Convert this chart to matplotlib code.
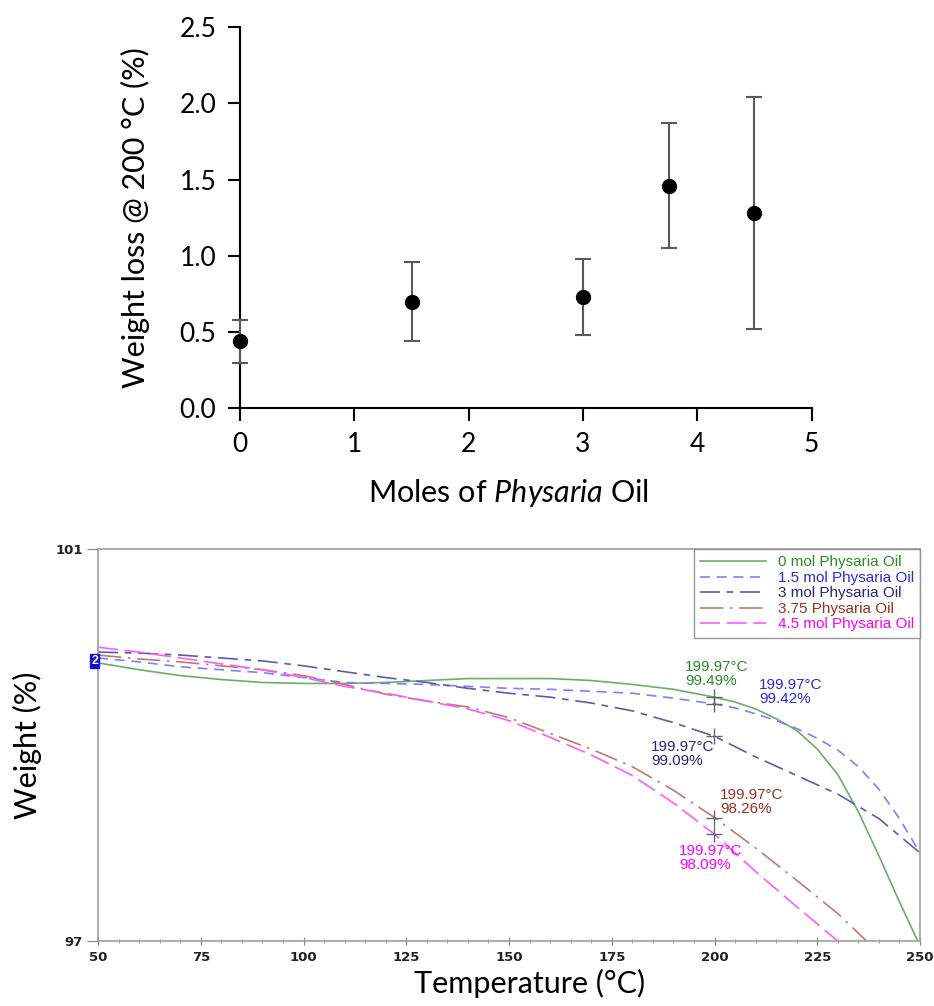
import matplotlib
matplotlib.use("Agg")
import matplotlib.pyplot as plt
from matplotlib.ticker import MultipleLocator, FixedLocator

plt.rcParams['mathtext.fontset'] = 'custom'
plt.rcParams['mathtext.rm'] = 'Lato'
plt.rcParams['mathtext.it'] = 'Lato:italic'

# --- top panel data: weight loss at 200 C vs moles of Physaria oil
moles = [0, 1.5, 3, 3.75, 4.5]
weight_loss = [0.44, 0.70, 0.73, 1.46, 1.28]
loss_err = [0.14, 0.26, 0.25, 0.41, 0.76]

# --- bottom panel data: TGA curves (temperature in C, weight in %)
temp_a = [50, 60, 70, 80, 90, 100, 110, 120, 130, 140, 150, 160, 170, 180, 190,
          200, 205, 210, 215, 220, 225, 230, 235, 240, 245, 250]
w_0 = [99.84, 99.77, 99.71, 99.67, 99.64, 99.63, 99.63, 99.64, 99.66, 99.68, 99.68,
       99.68, 99.66, 99.62, 99.57, 99.49, 99.44, 99.37, 99.27, 99.15, 98.96, 98.70,
       98.32, 97.87, 97.40, 96.95]
w_15 = [99.89, 99.85, 99.80, 99.77, 99.74, 99.69, 99.64, 99.63, 99.62, 99.60, 99.58,
        99.57, 99.55, 99.53, 99.48, 99.42, 99.38, 99.32, 99.25, 99.17, 99.07, 98.95,
        98.78, 98.55, 98.25, 97.90]
temp_b = [50, 60, 70, 80, 90, 100, 110, 120, 130, 140, 150, 160, 170, 180, 190,
          200, 210, 220, 230, 240, 250]
w_3 = [99.95, 99.94, 99.92, 99.89, 99.86, 99.81, 99.75, 99.69, 99.64, 99.58, 99.53,
       99.49, 99.43, 99.35, 99.23, 99.09, 98.88, 98.69, 98.50, 98.25, 97.90]
temp_c = [50, 60, 70, 80, 90, 100, 110, 120, 130, 140, 150, 160, 170, 180, 190,
          200, 210, 220, 230, 237]
w_375 = [99.92, 99.88, 99.85, 99.81, 99.77, 99.71, 99.62, 99.52, 99.45, 99.39, 99.28,
         99.12, 98.96, 98.78, 98.54, 98.26, 97.95, 97.62, 97.28, 97.00]
temp_d = [50, 60, 70, 80, 90, 100, 110, 120, 130, 140, 150, 160, 170, 180, 190,
          200, 210, 220, 230]
w_45 = [100.00, 99.95, 99.89, 99.83, 99.77, 99.69, 99.60, 99.53, 99.45, 99.37, 99.25,
        99.08, 98.90, 98.69, 98.41, 98.09, 97.71, 97.35, 97.00]

labels = ['0 mol Physaria Oil', '1.5 mol Physaria Oil', '3 mol Physaria Oil',
          '3.75 Physaria Oil', '4.5 mol Physaria Oil']
line_colors = ['#6aae6a', '#7f7fff', '#5c5ca8', '#c07a6c', '#ff5cff']
text_colors = ['#2a8a2a', '#2a2ae0', '#26267a', '#9a3024', '#ff00ff']
marker_vals = [99.49, 99.42, 99.09, 98.26, 98.09]

fig = plt.figure(figsize=(9.34, 10.06), dpi=100)

# ---------------- top panel ----------------
ax1 = fig.add_axes([0.257, 0.594, 0.612, 0.379])
ax1.errorbar(moles, weight_loss, yerr=loss_err, fmt='o', color='black', ms=10,
             ecolor='#5a5a5a', elinewidth=1.5, capsize=6, capthick=1.5, clip_on=False, zorder=3)
ax1.set_xlim(0, 5)
ax1.set_ylim(0, 2.5)
ax1.xaxis.set_major_locator(MultipleLocator(1))
ax1.yaxis.set_major_locator(MultipleLocator(0.5))
ax1.yaxis.set_major_formatter(matplotlib.ticker.FormatStrFormatter('%.1f'))
for s in ['top', 'right']:
    ax1.spines[s].set_visible(False)
for s in ['left', 'bottom']:
    ax1.spines[s].set_linewidth(1.5)
ax1.tick_params(width=1.5, length=9, labelsize=19, pad=8)
for t in ax1.get_xticklabels() + ax1.get_yticklabels():
    t.set_fontfamily('Lato')
ax1.set_xlabel(r'Moles of $\mathit{Physaria}$ Oil', fontsize=22, family='Lato')
ax1.set_ylabel('Weight loss @ 200 °C (%)', fontsize=22, family='Lato')
ax1.xaxis.set_label_coords(0.47, -0.18)
ax1.yaxis.set_label_coords(-0.157, 0.5)

# ---------------- bottom panel ----------------
ax2 = fig.add_axes([0.105, 0.0646, 0.880, 0.3894])
series = [(temp_a, w_0), (temp_a, w_15), (temp_b, w_3), (temp_c, w_375), (temp_d, w_45)]
styles = ['-', (0, (6, 4)), (0, (12, 4, 4, 4)), (0, (14, 4, 1.5, 4)), (0, (12, 4))]
for (tx, wy), lab, lc, ls in zip(series, labels, line_colors, styles):
    ax2.plot(tx, wy, color=lc, lw=1.2, ls=ls, label=lab)

# markers at 199.97 C
for v in marker_vals:
    ax2.plot(199.97, v, marker='+', color='#666666', ms=12, mew=1, zorder=4)

ann_pos = [(192.8, 99.87), (210.8, 99.69), (184.5, 99.05), (201.3, 98.56), (191.4, 97.99)]
for (x, y), v, c in zip(ann_pos, marker_vals, text_colors):
    ax2.text(x, y, f'199.97°C\n{v:.2f}%', color=c, fontsize=11, family='Liberation Sans',
             va='top', ha='left', linespacing=1.0)

ax2.text(50, 99.86, '2', color='white', fontsize=9, fontweight='bold', ha='right', va='center',
         family='Liberation Sans',
         bbox=dict(boxstyle='square,pad=0.1', fc='#1111cc', ec='#1111cc'))

ax2.set_xlim(50, 250)
ax2.set_ylim(97, 101)
ax2.xaxis.set_major_locator(MultipleLocator(25))
ax2.xaxis.set_minor_locator(MultipleLocator(5))
ax2.yaxis.set_major_locator(FixedLocator([97, 101]))
for s in ax2.spines.values():
    s.set_color('#a0a0a0')
    s.set_linewidth(1.2)
ax2.tick_params(axis='x', which='major', direction='inout', length=6, color='#808080', pad=4)
ax2.tick_params(axis='x', which='minor', direction='inout', length=3, color='#808080')
ax2.tick_params(axis='y', direction='out', length=8, color='#808080', pad=3)
for t in ax2.get_xticklabels() + ax2.get_yticklabels():
    t.set_fontfamily('Liberation Sans Narrow')
    t.set_fontweight('bold')
    t.set_fontsize(9.5)
    t.set_color('#222222')

leg = ax2.legend(loc='upper right', borderaxespad=0, handlelength=4.3,
                 labelspacing=0.1, frameon=True, fancybox=False, edgecolor='#808080',
                 prop={'family': 'Liberation Sans', 'size': 11}, borderpad=0.4)
for txt, c in zip(leg.get_texts(), text_colors):
    txt.set_color(c)

ax2.set_ylabel('Weight (%)', fontsize=22, family='Lato')
ax2.set_xlabel('Temperature (°C)', fontsize=22, family='Lato')
ax2.yaxis.set_label_coords(-0.068, 0.5)
ax2.xaxis.set_label_coords(0.525, -0.07)

fig.savefig('out.png', dpi=100)
